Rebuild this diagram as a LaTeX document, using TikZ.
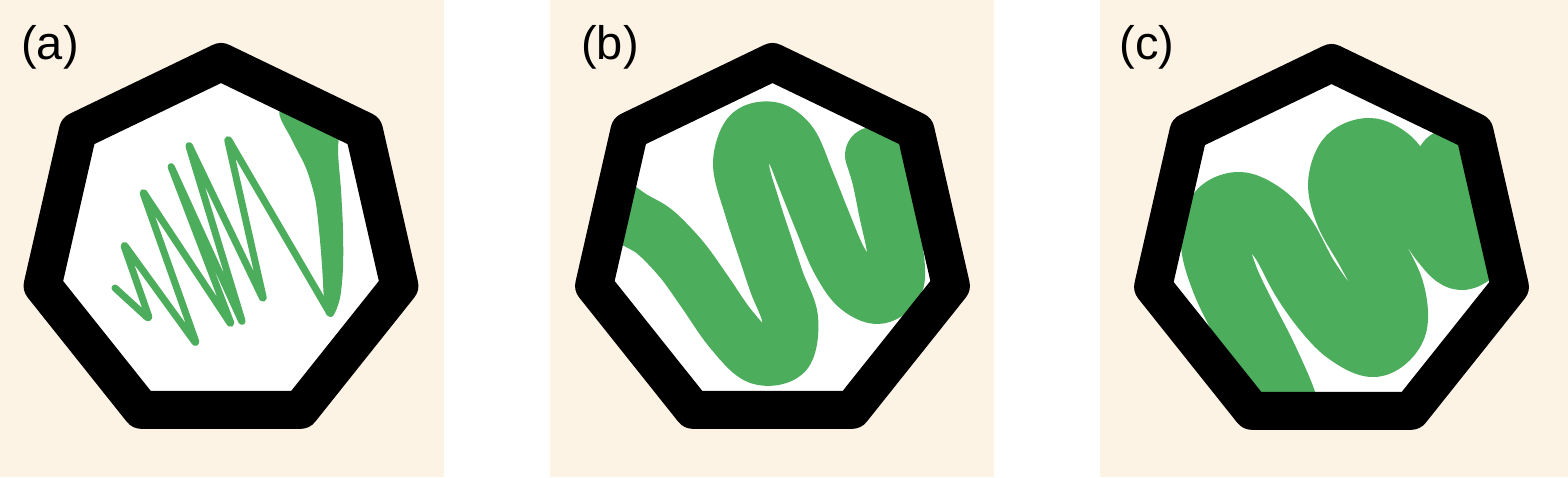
\documentclass[tikz,border=0pt]{standalone}
\usepackage{fontspec}
\setmainfont{Liberation Sans}
\usetikzlibrary{shapes.geometric}
\definecolor{beige}{RGB}{253,243,229}
\definecolor{leaf}{RGB}{76,173,92}
\begin{document}
\begin{tikzpicture}[x=1pt,y=-1pt,
  hept/.style={regular polygon, regular polygon sides=7, minimum size=366pt,
    inner sep=0pt, outer sep=0pt, fill=white},
  rim/.style={draw=black, line width=38pt, line join=round},
  tag/.style={font=\fontsize{47}{52}\selectfont, inner sep=0pt},
  band/.style={draw=leaf, line cap=round, line join=round},
  scribble/.style={band, line width=7pt, rounded corners=5pt}]
\useasboundingbox (0,0) rectangle (1568,477);
\fill[beige] (0,0) rectangle (444,477);
\fill[beige] (550,0) rectangle (994,477);
\fill[beige] (1100,0) rectangle (1568,477);

\node[tag] (la) at (50,47.5) {(a)};
\node[tag] (lb) at (610,47.5) {(b)};
\node[tag] (lc) at (1147,47.5) {(c)};

% ---------- (a)
\node[hept] (ha) at (221,245) {};
\begin{scope}
\clip (ha.corner 1) -- (ha.corner 2) -- (ha.corner 3) -- (ha.corner 4) -- (ha.corner 5) -- (ha.corner 6) -- (ha.corner 7) -- cycle;
\draw[scribble] (115,288) -- (150,320) -- (123,243) -- (197,345) -- (142,190) -- (232,326)
  -- (170,164) -- (243,324) -- (188,143) -- (264,301) -- (227,137) -- (328,310);
\fill[leaf] plot[smooth cycle, tension=0.5] coordinates {(324,300) (322,265) (319,230) (315,198) (306,168) (292,140) (280,110) (320,100) (340,112) (338,150) (341,190) (343,230) (343,268) (340,298) (333,316) (326,314)};
\end{scope}
\draw[rim] (ha.corner 1) -- (ha.corner 2) -- (ha.corner 3) -- (ha.corner 4) -- (ha.corner 5) -- (ha.corner 6) -- (ha.corner 7) -- cycle;

% ---------- (b)
\node[hept] (hb) at (772.5,245) {};
\begin{scope}
\clip (hb.corner 1) -- (hb.corner 2) -- (hb.corner 3) -- (hb.corner 4) -- (hb.corner 5) -- (hb.corner 6) -- (hb.corner 7) -- cycle;
\draw[band, line width=56pt] plot[smooth, tension=0.55] coordinates {(600,195) (630,217) (655,232) (682,260) (705,292) (730,328) (758,356) (785,352) (790,318) (777,283) (766,250) (752,207) (741,165) (750,135) (772,130) (791,145) (806,180) (822,220) (838,258) (856,285) (878,296) (896,282) (895,250) (887,212) (880,178) (873,155)};
\end{scope}
\draw[rim] (hb.corner 1) -- (hb.corner 2) -- (hb.corner 3) -- (hb.corner 4) -- (hb.corner 5) -- (hb.corner 6) -- (hb.corner 7) -- cycle;

% ---------- (c)
\node[hept] (hc) at (1331.5,246) {};
\begin{scope}
\clip (hc.corner 1) -- (hc.corner 2) -- (hc.corner 3) -- (hc.corner 4) -- (hc.corner 5) -- (hc.corner 6) -- (hc.corner 7) -- cycle;
\draw[band, line width=68pt] plot[smooth, tension=0.55] coordinates {(1292,430) (1280,395) (1262,355) (1243,318) (1225,280) (1215,245) (1220,215) (1240,206) (1264,218) (1284,240) (1304,277) (1325,307) (1347,330) (1374,343) (1393,325) (1390,290) (1370,250) (1350,215) (1342,185) (1350,160) (1370,152) (1390,163) (1403,183) (1424,210) (1444,240) (1462,256) (1480,238) (1475,200) (1460,172) (1450,163)};
\end{scope}
\draw[rim] (hc.corner 1) -- (hc.corner 2) -- (hc.corner 3) -- (hc.corner 4) -- (hc.corner 5) -- (hc.corner 6) -- (hc.corner 7) -- cycle;
\end{tikzpicture}
\end{document}
